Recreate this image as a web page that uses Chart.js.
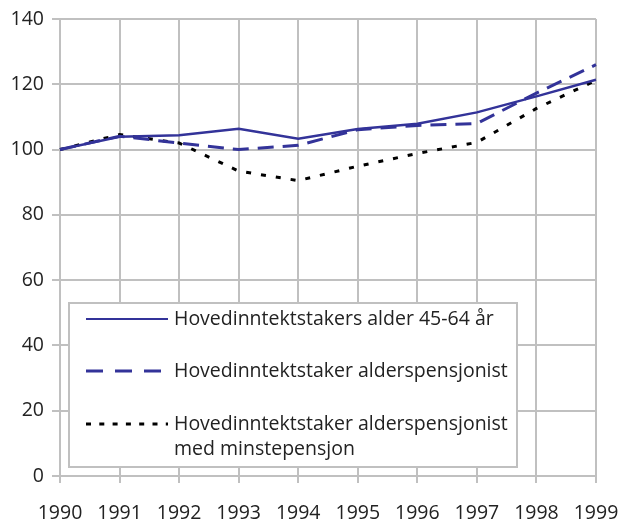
<!DOCTYPE html>
<html><head><meta charset="utf-8">
<script src="https://cdn.jsdelivr.net/npm/chart.js@4.4.1/dist/chart.umd.min.js"></script>
<style>html,body{margin:0;padding:0;background:#fff;}#wrap{width:619px;height:522px;}</style>
</head><body><div id="wrap"><canvas id="c" width="619" height="522"></canvas></div>
<script>
const years = ['1990','1991','1992','1993','1994','1995','1996','1997','1998','1999'];
const age4564 = [100, 103.9, 104.4, 106.4, 103.3, 106.3, 107.9, 111.4, 116.3, 121.4];
const pensioner = [100, 104.1, 102.0, 100.0, 101.3, 106.1, 107.4, 108.0, 117.3, 126.0];
const minPension = [100, 104.6, 102.0, 93.4, 90.5, 94.9, 98.8, 102.2, 112.6, 121.2];
const yTicks = [0, 20, 40, 60, 80, 100, 120, 140];
const labels = ['Hovedinntektstakers alder 45-64 år', 'Hovedinntektstaker alderspensjonist', ['Hovedinntektstaker alderspensjonist', 'med minstepensjon']];

const FONT = '"Open Sans", "Noto Sans", sans-serif';
const legendPlugin = {
  id: 'boxLegend',
  afterDraw(chart) {
    const ctx = chart.ctx;
    const x0 = 69, y0 = 303, x1 = 517, y1 = 467;
    ctx.save();
    ctx.fillStyle = '#fff';
    ctx.fillRect(x0, y0, x1 - x0, y1 - y0);
    ctx.strokeStyle = '#c0c0c0';
    ctx.lineWidth = 2;
    ctx.strokeRect(x0, y0, x1 - x0, y1 - y0);
    const rows = [319, 371, 424];
    const dashes = [[], [17, 12], [5, 8.3]];
    chart.data.datasets.forEach((ds, i) => {
      const y = rows[i];
      ctx.beginPath();
      ctx.setLineDash(dashes[i]);
      ctx.strokeStyle = ds.borderColor;
      ctx.lineWidth = i === 0 ? 2 : 3;
      ctx.moveTo(86, y); ctx.lineTo(168, y);
      ctx.stroke();
      ctx.setLineDash([]);
      ctx.fillStyle = '#222';
      ctx.font = '19.5px ' + FONT;
      ctx.textBaseline = 'middle';
      const lines = Array.isArray(labels[i]) ? labels[i] : [labels[i]];
      lines.forEach((t, k) => ctx.fillText(t, 174, y + k * 25));
    });
    ctx.restore();
  }
};

new Chart(document.getElementById('c'), {
  type: 'line',
  data: {
    labels: years,
    datasets: [
      { label: 'a', data: age4564, borderColor: '#333399', borderWidth: 2.5, pointRadius: 0, tension: 0 },
      { label: 'b', data: pensioner, borderColor: '#333399', borderWidth: 3, borderDash: [16, 9], pointRadius: 0, tension: 0 },
      { label: 'c', data: minPension, borderColor: '#000000', borderWidth: 3, borderDash: [5, 10], pointRadius: 0, tension: 0 }
    ]
  },
  options: {
    responsive: false,
    animation: false,
    layout: { padding: { top: 19, right: 23, left: 0, bottom: 0 } },
    plugins: { legend: { display: false }, tooltip: { enabled: false } },
    scales: {
      x: {
        offset: false,
        grid: { color: '#c0c0c0', lineWidth: 2, tickLength: 7 },
        border: { color: '#c0c0c0', width: 2 },
        ticks: { color: '#222', font: { size: 19.5, family: FONT }, padding: 19, maxRotation: 0, autoSkip: false },
        afterFit(s) { s.height = 46; s.paddingLeft = 0; s.paddingRight = 0; }
      },
      y: {
        min: 0, max: 140,
        afterBuildTicks(s) { s.ticks = yTicks.map(v => ({ value: v })); },
        grid: { color: '#c0c0c0', lineWidth: 2, tickLength: 8 },
        border: { color: '#c0c0c0', width: 2 },
        ticks: { color: '#222', font: { size: 19.5, family: FONT }, padding: 8 },
        afterFit(s) { s.width = 60; s.paddingTop = 0; s.paddingBottom = 0; }
      }
    }
  },
  plugins: [legendPlugin]
});
</script></body></html>
